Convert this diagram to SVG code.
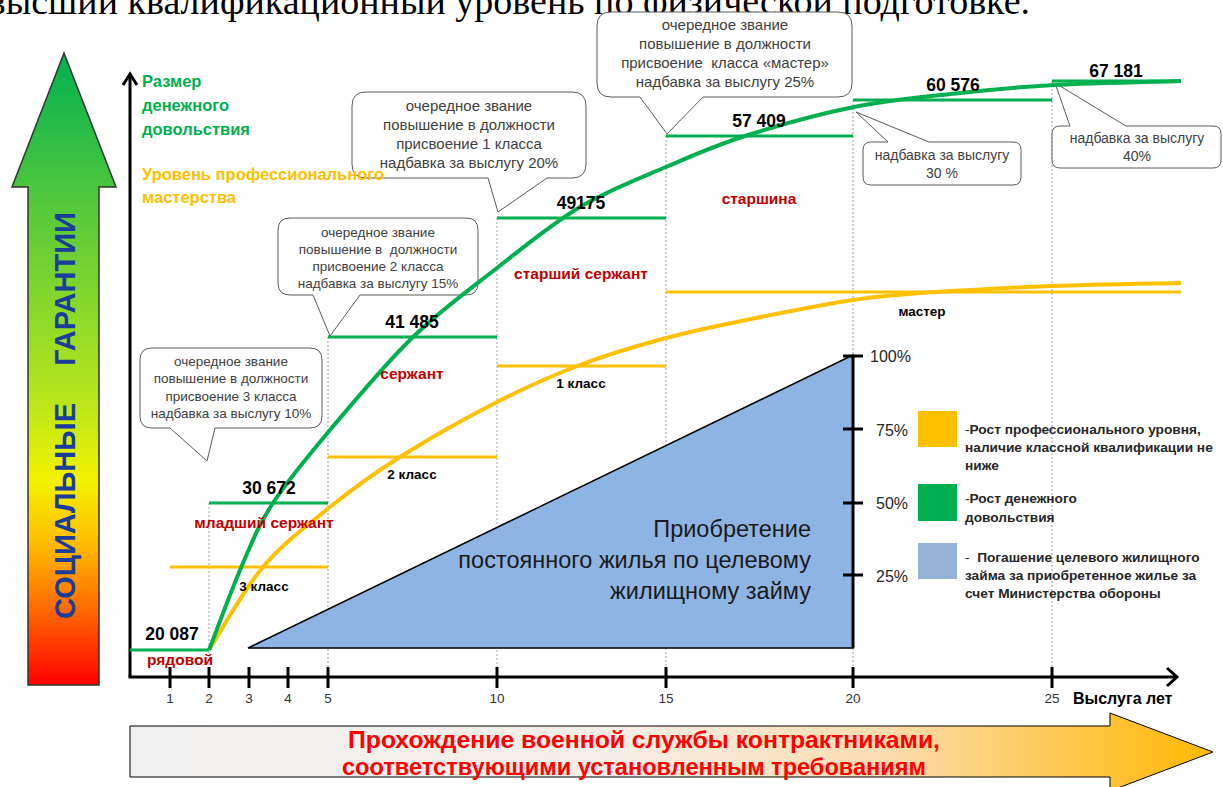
<svg xmlns="http://www.w3.org/2000/svg" width="1223" height="787" viewBox="0 0 1223 787">
<defs>
<linearGradient id="gUp" x1="0" y1="53" x2="0" y2="685" gradientUnits="userSpaceOnUse">
<stop offset="0" stop-color="#00b050"/>
<stop offset="0.23" stop-color="#50c83c"/>
<stop offset="0.55" stop-color="#b8e61c"/>
<stop offset="0.675" stop-color="#f2f200"/>
<stop offset="0.77" stop-color="#ffc000"/>
<stop offset="0.88" stop-color="#ff6a00"/>
<stop offset="1" stop-color="#ff0000"/>
</linearGradient>
<linearGradient id="gRight" x1="130" y1="0" x2="1213" y2="0" gradientUnits="userSpaceOnUse">
<stop offset="0" stop-color="#f0f0f0"/>
<stop offset="0.45" stop-color="#f6eee6"/>
<stop offset="0.7" stop-color="#fbdcae"/>
<stop offset="1" stop-color="#ffb800"/>
</linearGradient>
<style>
text{font-family:"Liberation Sans",Arial,sans-serif}
.grid{stroke:#a0a0a0;stroke-width:1;stroke-dasharray:2 2;fill:none}
.axis{stroke:#000;stroke-width:3;fill:none}
.gs{stroke:#00b050;stroke-width:3;fill:none}
.ys{stroke:#ffc000;stroke-width:3;fill:none}
.gc{stroke:#00b050;stroke-width:4;fill:none}
.yc{stroke:#ffc000;stroke-width:4;fill:none}
.call{fill:#fff;stroke:#5a5a5a;stroke-width:1}
.ct{font-size:13.5px;fill:#404040;text-anchor:middle}
.ct2{font-size:15px;fill:#404040;text-anchor:middle}
.ct3{font-size:14px;fill:#404040;text-anchor:middle}
.val{font-size:17.5px;font-weight:bold;fill:#000;text-anchor:middle}
.rank{font-size:15.5px;font-weight:bold;fill:#c00000;text-anchor:middle}
.cls{font-size:13.5px;font-weight:bold;fill:#000;text-anchor:middle}
.tick{font-size:13.5px;fill:#333;text-anchor:middle}
.pct{font-size:16px;fill:#262626}
.leg{font-size:13.7px;font-weight:bold;fill:#262626}
.tri{font-size:23.5px;fill:#1a1a1a;text-anchor:end}
</style>
</defs>
<rect width="1223" height="787" fill="#fff"/>

<text x="1030" y="14" font-size="38" text-anchor="end" fill="#000" style="font-family:'Liberation Serif','Times New Roman',serif">высший квалификационный уровень по физической подготовке.</text>

<g id="social-arrow">
<polygon points="64,53 116,187 99,187 99,685 28,685 28,187 12,187" fill="url(#gUp)" stroke="#333" stroke-width="1.5"/>
<text transform="translate(75,289) rotate(-90)" text-anchor="middle" font-size="29" font-weight="bold" fill="#1a3d9c">ГАРАНТИИ</text>
<text transform="translate(75,511) rotate(-90)" text-anchor="middle" font-size="29" font-weight="bold" fill="#1a3d9c">СОЦИАЛЬНЫЕ</text>
</g>

<g id="grid">
<line class="grid" x1="209" y1="503" x2="209" y2="677"/>
<line class="grid" x1="328" y1="337" x2="328" y2="677"/>
<line class="grid" x1="497" y1="218" x2="497" y2="677"/>
<line class="grid" x1="666" y1="136" x2="666" y2="677"/>
<line class="grid" x1="853" y1="100" x2="853" y2="677"/>
<line class="grid" x1="1052" y1="81" x2="1052" y2="677"/>
</g>

<g id="housing">
<polygon points="248,648 853,355 853,648" fill="#8eb4e3" stroke="#000" stroke-width="1.5"/>
<line x1="853" y1="355" x2="853" y2="648" stroke="#000" stroke-width="3"/>
<g stroke="#000" stroke-width="3">
<line x1="843" y1="356" x2="863" y2="356"/>
<line x1="843" y1="429" x2="863" y2="429"/>
<line x1="843" y1="503" x2="863" y2="503"/>
<line x1="843" y1="575" x2="863" y2="575"/>
</g>
<text class="pct" x="870" y="362">100%</text>
<text class="pct" x="876" y="436">75%</text>
<text class="pct" x="876" y="509">50%</text>
<text class="pct" x="876" y="582">25%</text>
<text class="tri" x="811" y="537">Приобретение</text>
<text class="tri" x="811" y="568">постоянного жилья по целевому</text>
<text class="tri" x="811" y="599">жилищному займу</text>
</g>

<g id="axes">
<line class="axis" x1="130" y1="75" x2="130" y2="677"/>
<polyline class="axis" points="123,85 130,74 137,85"/>
<line class="axis" x1="128.5" y1="677" x2="1176" y2="677"/>
<polyline class="axis" points="1167,668 1177,677 1167,686"/>
<g stroke="#000" stroke-width="3">
<line x1="170" y1="667" x2="170" y2="688"/>
<line x1="209" y1="667" x2="209" y2="688"/>
<line x1="249" y1="667" x2="249" y2="688"/>
<line x1="288" y1="667" x2="288" y2="688"/>
<line x1="328" y1="667" x2="328" y2="688"/>
<line x1="497" y1="667" x2="497" y2="688"/>
<line x1="666" y1="667" x2="666" y2="688"/>
<line x1="853" y1="667" x2="853" y2="688"/>
<line x1="1052" y1="667" x2="1052" y2="688"/>
</g>
<text class="tick" x="170" y="703">1</text>
<text class="tick" x="209" y="703">2</text>
<text class="tick" x="249" y="703">3</text>
<text class="tick" x="288" y="703">4</text>
<text class="tick" x="328" y="703">5</text>
<text class="tick" x="497" y="703">10</text>
<text class="tick" x="666" y="703">15</text>
<text class="tick" x="853" y="703">20</text>
<text class="tick" x="1052" y="703">25</text>
<text x="1073" y="704" font-size="16" font-weight="bold" fill="#000">Выслуга лет</text>
</g>

<g id="steps">
<line class="gs" x1="130" y1="650" x2="209" y2="650"/>
<line class="gs" x1="209" y1="503" x2="328" y2="503"/>
<line class="gs" x1="328" y1="337" x2="497" y2="337"/>
<line class="gs" x1="497" y1="218" x2="666" y2="218"/>
<line class="gs" x1="666" y1="136" x2="853" y2="136"/>
<line class="gs" x1="853" y1="100" x2="1052" y2="100"/>
<line class="gs" x1="1052" y1="81" x2="1181" y2="81"/>
<line class="ys" x1="170" y1="567" x2="328" y2="567"/>
<line class="ys" x1="328" y1="457" x2="497" y2="457"/>
<line class="ys" x1="497" y1="366" x2="666" y2="366"/>
<line class="ys" x1="666" y1="292" x2="1181" y2="292"/>
</g>

<g id="callouts">
<g id="callout-3class">
<path class="call" d="M152,348 H310 Q322,348 322,360 V416 Q322,428 310,428 H215 L207,461 L170,428 H152 Q140,428 140,416 V360 Q140,348 152,348 Z"/>
<text class="ct" x="231" y="366">очередное звание</text>
<text class="ct" x="231" y="383">повышение в должности</text>
<text class="ct" x="231" y="401">присвоение 3 класса</text>
<text class="ct" x="231" y="418">надбавка за выслугу 10%</text>
</g>
<g id="callout-2class">
<path class="call" d="M290,218 H466 Q478,218 478,230 V283 Q478,295 466,295 H360 L330,336 L313,295 H290 Q278,295 278,283 V230 Q278,218 290,218 Z"/>
<text class="ct" x="378" y="237">очередное звание</text>
<text class="ct" x="378" y="254">повышение в&#160; должности</text>
<text class="ct" x="378" y="271">присвоение 2 класса</text>
<text class="ct" x="378" y="288">надбавка за выслугу 15%</text>
</g>
<g id="callout-1class">
<path class="call" d="M366,92 H572 Q586,92 586,106 V164 Q586,178 572,178 H547 L498,212 L488,178 H366 Q352,178 352,164 V106 Q352,92 366,92 Z"/>
<text class="ct2" x="469" y="111">очередное звание</text>
<text class="ct2" x="469" y="130">повышение в должности</text>
<text class="ct2" x="469" y="149">присвоение 1 класса</text>
<text class="ct2" x="469" y="168">надбавка за выслугу 20%</text>
</g>
<g id="callout-master">
<path class="call" d="M611,12 H838 Q852,12 852,26 V83 Q852,97 838,97 H703 L667,134 L640,97 H611 Q597,97 597,83 V26 Q597,12 611,12 Z"/>
<text class="ct2" x="725" y="30">очередное звание</text>
<text class="ct2" x="725" y="49">повышение в должности</text>
<text class="ct2" x="725" y="68">присвоение&#160; класса «мастер»</text>
<text class="ct2" x="725" y="87">надбавка за выслугу 25%</text>
</g>
<g id="callout-30">
<path class="call" d="M871,142 H888 L856,112 L929,142 H1013 Q1021,142 1021,150 V177 Q1021,185 1013,185 H871 Q863,185 863,177 V150 Q863,142 871,142 Z"/>
<text class="ct3" x="942" y="160">надбавка за выслугу</text>
<text class="ct3" x="942" y="178">30 %</text>
</g>
<g id="callout-40">
<path class="call" d="M1060,126 H1070 L1055,83 L1126,126 H1213 Q1221,126 1221,134 V160 Q1221,168 1213,168 H1060 Q1052,168 1052,160 V134 Q1052,126 1060,126 Z"/>
<text class="ct3" x="1137" y="143">надбавка за выслугу</text>
<text class="ct3" x="1137" y="161">40%</text>
</g>
</g>

<g id="curves">
<path class="yc" d="M209,650 C218,636.2 242.8,590.8 263,567 C283.2,543.2 307.2,525.3 330,507 C352.8,488.7 372.2,474.5 400,457 C427.8,439.5 467,417.3 497,402 C527,386.7 551.8,375.7 580,365 C608.2,354.3 637.5,345.7 666,338 C694.5,330.3 719.8,325.3 751,319 C782.2,312.7 822.2,304.5 853,300 C883.8,295.5 902.8,294.3 936,292 C969.2,289.7 1011.2,287.5 1052,286 C1092.8,284.5 1159.5,283.5 1181,283"/>
<path class="gc" d="M209,650 C214.7,635.5 232.3,587.5 243,563 C253.7,538.5 258.5,525.2 273,503 C287.5,480.8 306.7,457.7 330,430 C353.3,402.3 385.2,364 413,337 C440.8,310 469.2,289.7 497,268 C524.8,246.3 551.8,223.8 580,207 C608.2,190.2 638.5,178.8 666,167 C693.5,155.2 713.7,146 745,136 C776.3,126 818.2,114.2 854,107 C889.8,99.8 926.7,96.7 960,93 C993.3,89.3 1017.2,87 1054,85 C1090.8,83 1159.8,81.7 1181,81"/>
</g>

<g id="labels">
<text class="val" x="172" y="640" font-size="18.5">20 087</text>
<text class="rank" x="180" y="665" font-size="16">рядовой</text>
<text class="val" x="269" y="494">30 672</text>
<text class="rank" x="264" y="528">младший сержант</text>
<text class="cls" x="264" y="591">3 класс</text>
<text class="val" x="412" y="328">41 485</text>
<text class="rank" x="412" y="379">сержант</text>
<text class="cls" x="412" y="479">2 класс</text>
<text class="val" x="581" y="209">49175</text>
<text class="rank" x="581" y="279">старший сержант</text>
<text class="cls" x="581" y="388">1 класс</text>
<text class="val" x="759" y="127">57 409</text>
<text class="rank" x="759" y="204">старшина</text>
<text class="cls" x="922" y="316">мастер</text>
<text class="val" x="953" y="91">60 576</text>
<text class="val" x="1116" y="77">67 181</text>
</g>

<g id="axis-titles">
<text x="142" y="87" font-size="16.5" font-weight="bold" fill="#00b050">Размер</text>
<text x="142" y="111" font-size="16.5" font-weight="bold" fill="#00b050">денежного</text>
<text x="142" y="135" font-size="16.5" font-weight="bold" fill="#00b050">довольствия</text>
<text x="142" y="180" font-size="16.5" font-weight="bold" fill="#ffc000">Уровень профессионального</text>
<text x="142" y="203" font-size="16.5" font-weight="bold" fill="#ffc000">мастерства</text>
</g>

<g id="legend">
<rect x="918" y="411" width="39" height="36" fill="#ffc000"/>
<rect x="918" y="484" width="39" height="37" fill="#00b050"/>
<rect x="918" y="543" width="39" height="36" fill="#95b3d7"/>
<text class="leg" x="965" y="434"><tspan font-weight="normal">-</tspan>Рост профессионального уровня,</text>
<text class="leg" x="965" y="452">наличие классной квалификации не</text>
<text class="leg" x="965" y="470">ниже</text>
<text class="leg" x="965" y="503"><tspan font-weight="normal">-</tspan>Рост денежного</text>
<text class="leg" x="965" y="522">довольствия</text>
<text class="leg" x="965" y="562" xml:space="preserve"><tspan font-weight="normal">-  </tspan>Погашение целевого жилищного</text>
<text class="leg" x="965" y="580">займа за приобретенное жилье за</text>
<text class="leg" x="965" y="598">счет Министерства обороны</text>
</g>

<g id="service-arrow">
<polygon points="130,726 1110,726 1110,713 1213,752 1110,791 1110,777 130,777" fill="url(#gRight)" stroke="#000" stroke-width="1"/>
<text x="644" y="748" font-size="23" font-weight="bold" fill="#ff0000" text-anchor="middle" textLength="592" lengthAdjust="spacingAndGlyphs">Прохождение военной службы контрактниками,</text>
<text x="634" y="775" font-size="23" font-weight="bold" fill="#ff0000" text-anchor="middle" textLength="584" lengthAdjust="spacingAndGlyphs">соответствующими установленным требованиям</text>
</g>
</svg>
